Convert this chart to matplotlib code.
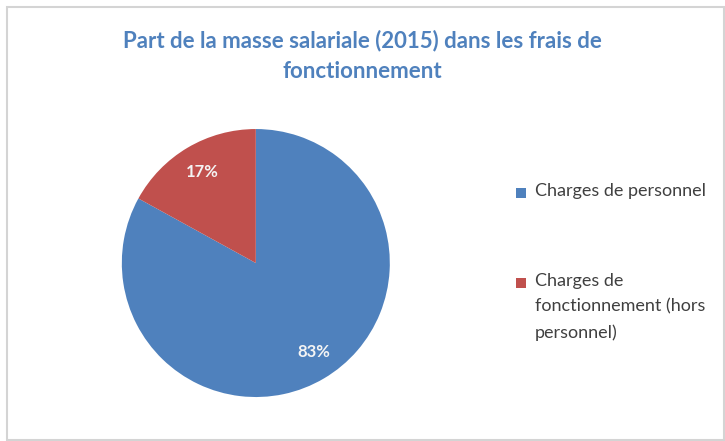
import numpy as np
import matplotlib.pyplot as plt
from matplotlib.patches import Rectangle

title = "Part de la masse salariale (2015) dans les frais de\nfonctionnement"
labels = ["Charges de personnel", "Charges de\nfonctionnement (hors\npersonnel)"]
values = [83, 17]
colors = ["#4F81BD", "#C0504D"]

plt.rcParams['font.family'] = ['Lato', 'DejaVu Sans']

fig = plt.figure(figsize=(7.25, 4.41), dpi=100)
fig.patch.set_facecolor('white')

# frame round the chart
fig.patches.append(Rectangle((0.009, 0.003), 0.989, 0.981, transform=fig.transFigure,
                             fill=False, edgecolor='#d4d4d4', linewidth=1.5))

ax = fig.add_axes([0.168, 0.0997, 0.3697, 0.6077])
wedges, texts, autotexts = ax.pie(values, colors=colors, startangle=90, counterclock=False,
                                  autopct='%d%%', pctdistance=0.79,
                                  textprops=dict(color='#f4f4f4', fontsize=12, fontweight='bold'),
                                  wedgeprops=dict(linewidth=0))
ax.set_xlim(-1, 1)
ax.set_ylim(-1, 1)
ax.set_aspect('equal')

# excel "best fit" puts the big label low on the right
a = np.deg2rad(-57)
autotexts[0].set_position((0.79 * np.cos(a), 0.79 * np.sin(a)))

fig.text(0.5, 0.873, title, ha='center', va='center', fontsize=16, fontweight='bold',
         color='#4F81BD', linespacing=1.55)

# legend, square lined up with the first line of each label
leg_y = [193, 283]
for lab, col, y in zip(labels, colors, leg_y):
    fig.patches.append(Rectangle((516 / 725, 1 - (y + 5) / 441), 10 / 725, 10 / 441,
                                 transform=fig.transFigure, facecolor=col, edgecolor='none'))
    fig.text(535 / 725, 1 - (y - 10) / 441, lab, ha='left', va='top', fontsize=13,
             color='#404040', linespacing=1.72)

fig.savefig('out.png', dpi=100)
